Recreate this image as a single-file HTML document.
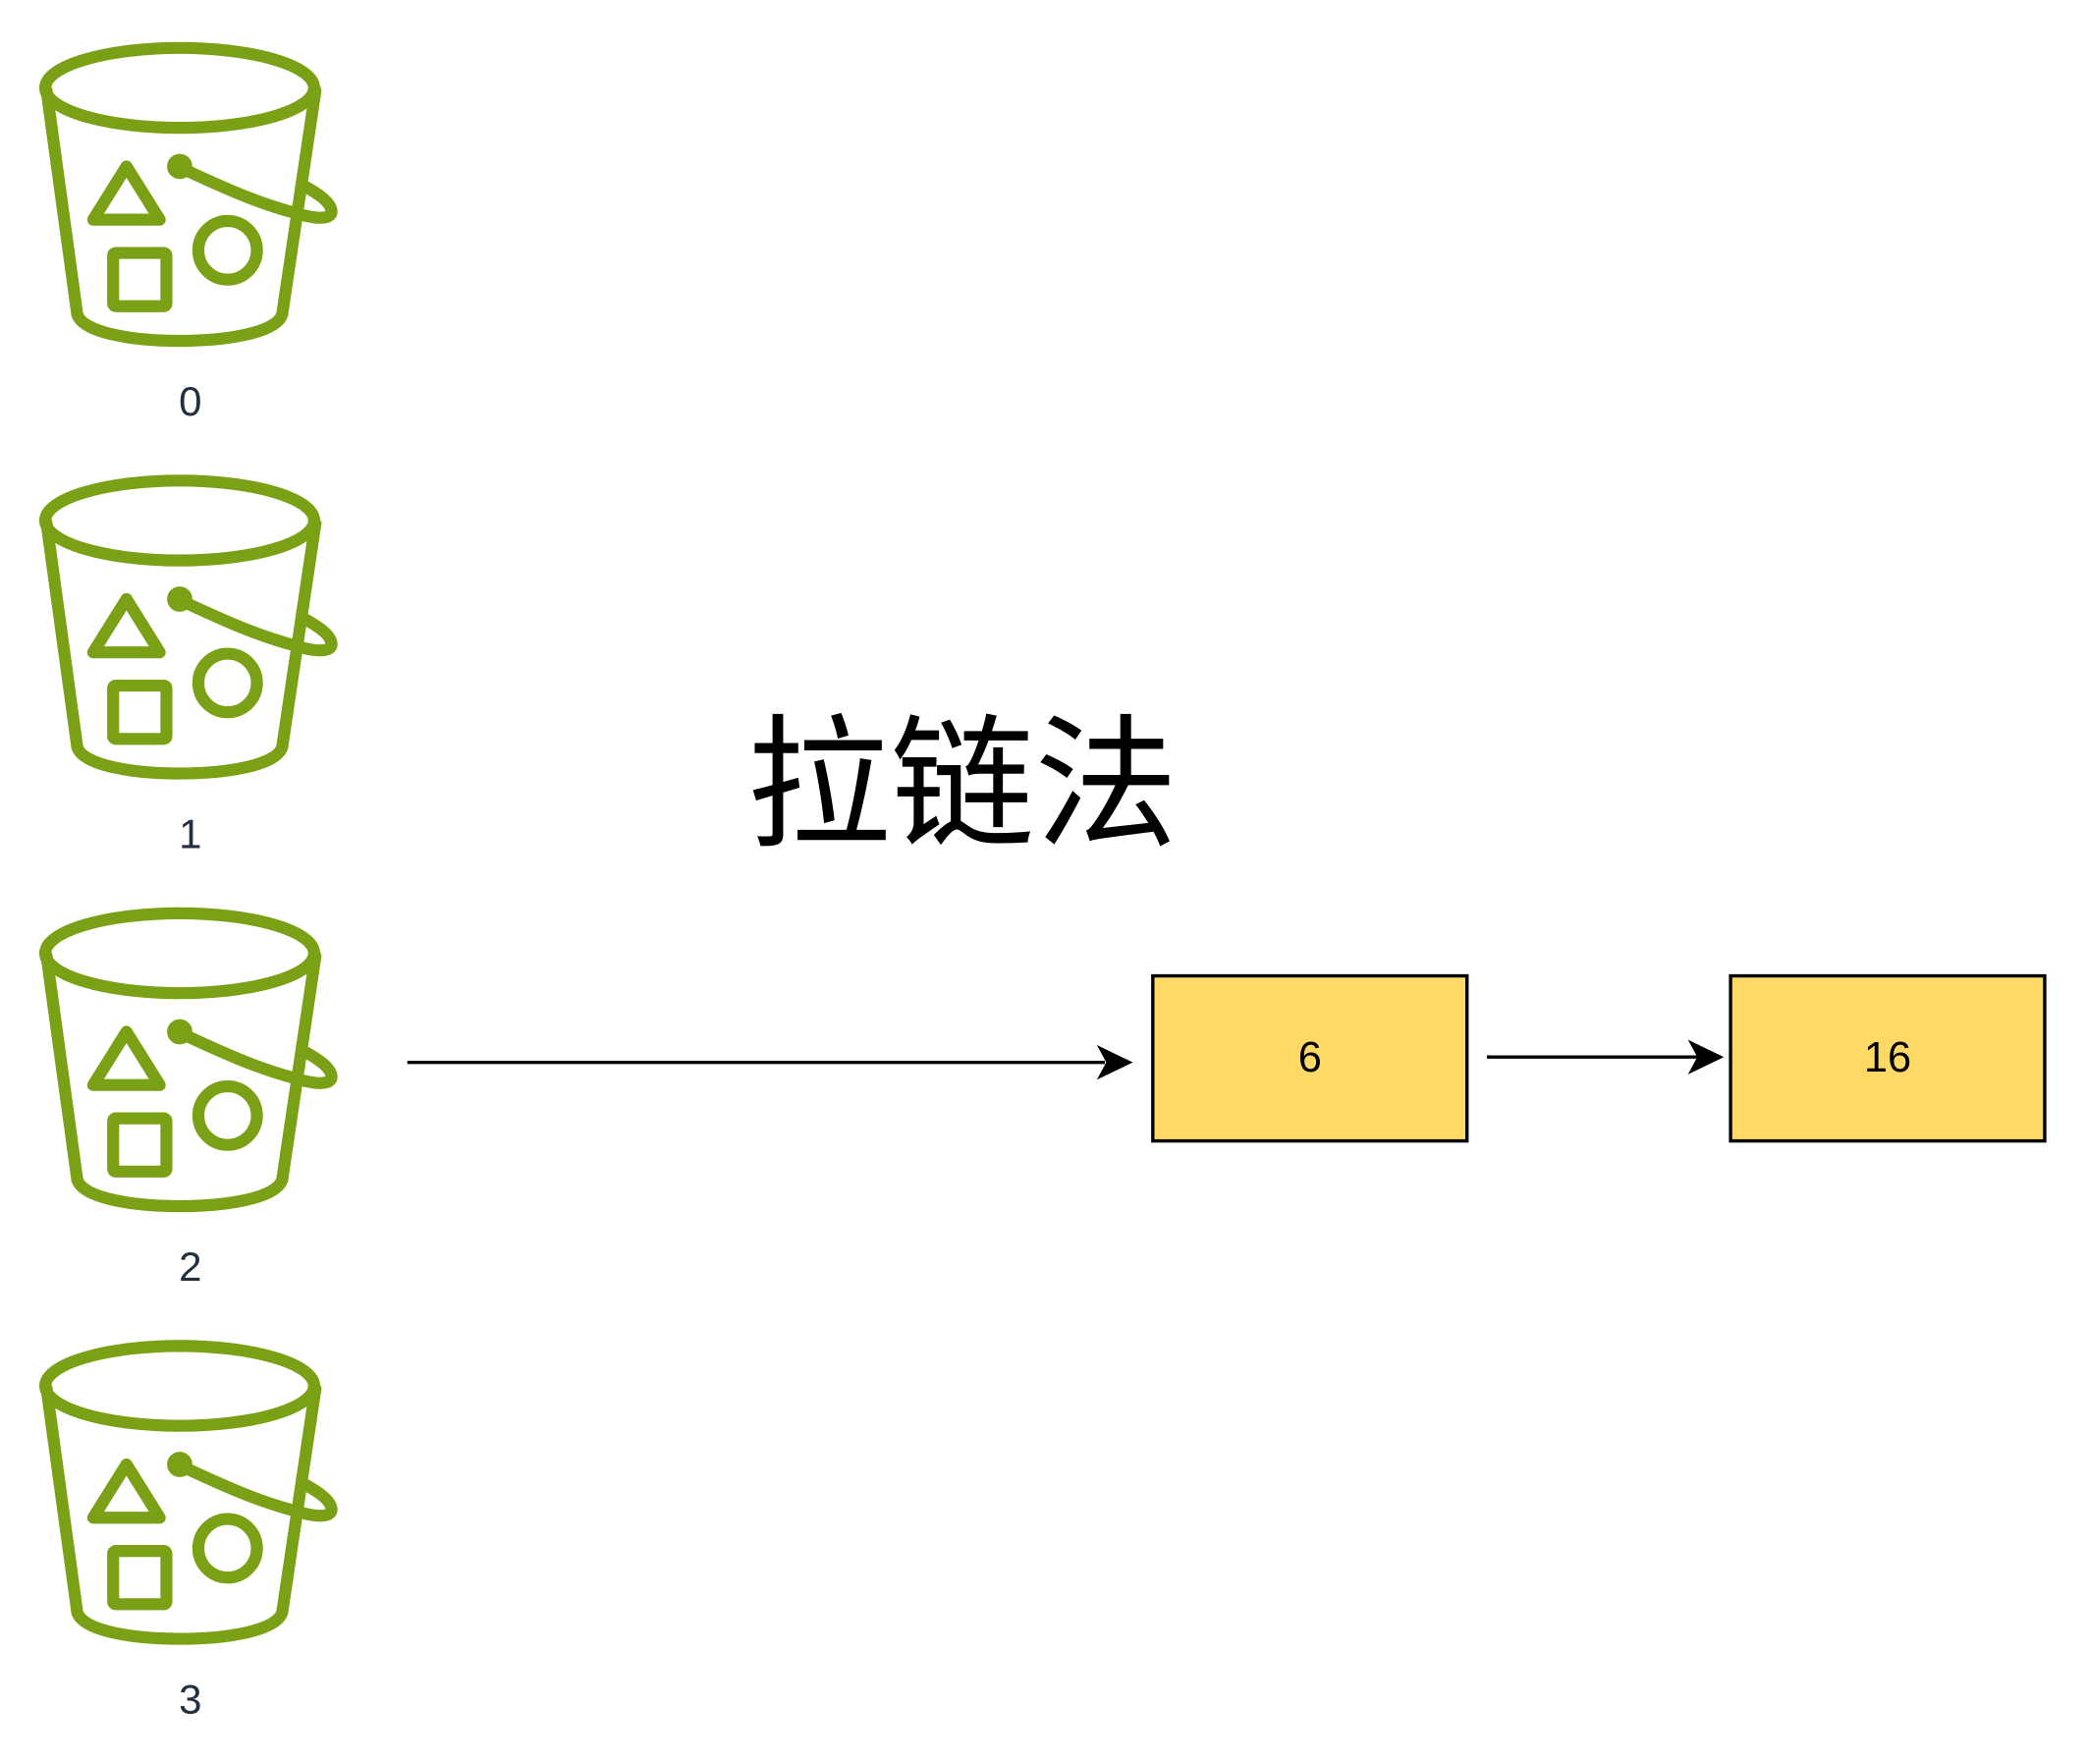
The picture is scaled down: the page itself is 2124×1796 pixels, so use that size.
<!DOCTYPE html>
<html><head><meta charset="utf-8"><style>html,body{margin:0;padding:0;background:#fff}svg{display:block}</style></head>
<body>
<svg xmlns="http://www.w3.org/2000/svg" width="2124" height="1796" viewBox="0 0 1567 1325">
<defs>
<g id="b" fill="none" stroke="#7AA116" stroke-width="9" stroke-linejoin="round" stroke-linecap="round">
<ellipse cx="135" cy="66" rx="101" ry="30"/>
<path d="M35,68 L58,236"/>
<path d="M237,68 L212,236"/>
<path d="M58,236 C62,250 100,256 135,256 C170,256 208,250 212,236"/>
<path d="M70,165 L95,125 L120,165 Z"/>
<rect x="85" y="190" width="40" height="40" rx="2"/>
<circle cx="171" cy="188" r="22"/>
<path d="M140,128 C170,142 195,153 222,160 C238,165 250,165 249,158 C248,152 240,146 229,140"/>
<circle cx="135" cy="125" r="7" fill="#7AA116" stroke-width="5"/>
</g>
</defs>
<use href="#b"/>
<use href="#b" y="325"/>
<use href="#b" y="650"/>
<use href="#b" y="975"/>
<g font-family="Liberation Sans, sans-serif" font-size="31" fill="#232F3E" text-anchor="middle">
<text x="143" y="312">0</text>
<text x="143" y="637">1</text>
<text x="143" y="962">2</text>
<text x="143" y="1287">3</text>
</g>
<text x="723" y="627" font-family="Liberation Sans, Noto Sans CJK SC, sans-serif" font-size="108" text-anchor="middle" fill="#000">拉链法</text>
<rect x="866" y="733" width="236" height="124" fill="#FFD966" stroke="#000" stroke-width="2.5"/>
<rect x="1300" y="733" width="236" height="124" fill="#FFD966" stroke="#000" stroke-width="2.5"/>
<g font-family="Liberation Sans, sans-serif" font-size="32" text-anchor="middle" fill="#000">
<text x="984" y="805">6</text>
<text x="1418" y="805">16</text>
</g>
<line x1="306" y1="798" x2="830" y2="798" stroke="#000" stroke-width="2.5"/>
<path d="M851,798 L824,785 L831,798 L824,811 Z" fill="#000"/>
<line x1="1117" y1="794" x2="1275" y2="794" stroke="#000" stroke-width="2.5"/>
<path d="M1295,794 L1268,781 L1275,794 L1268,807 Z" fill="#000"/>
</svg>
</body></html>
